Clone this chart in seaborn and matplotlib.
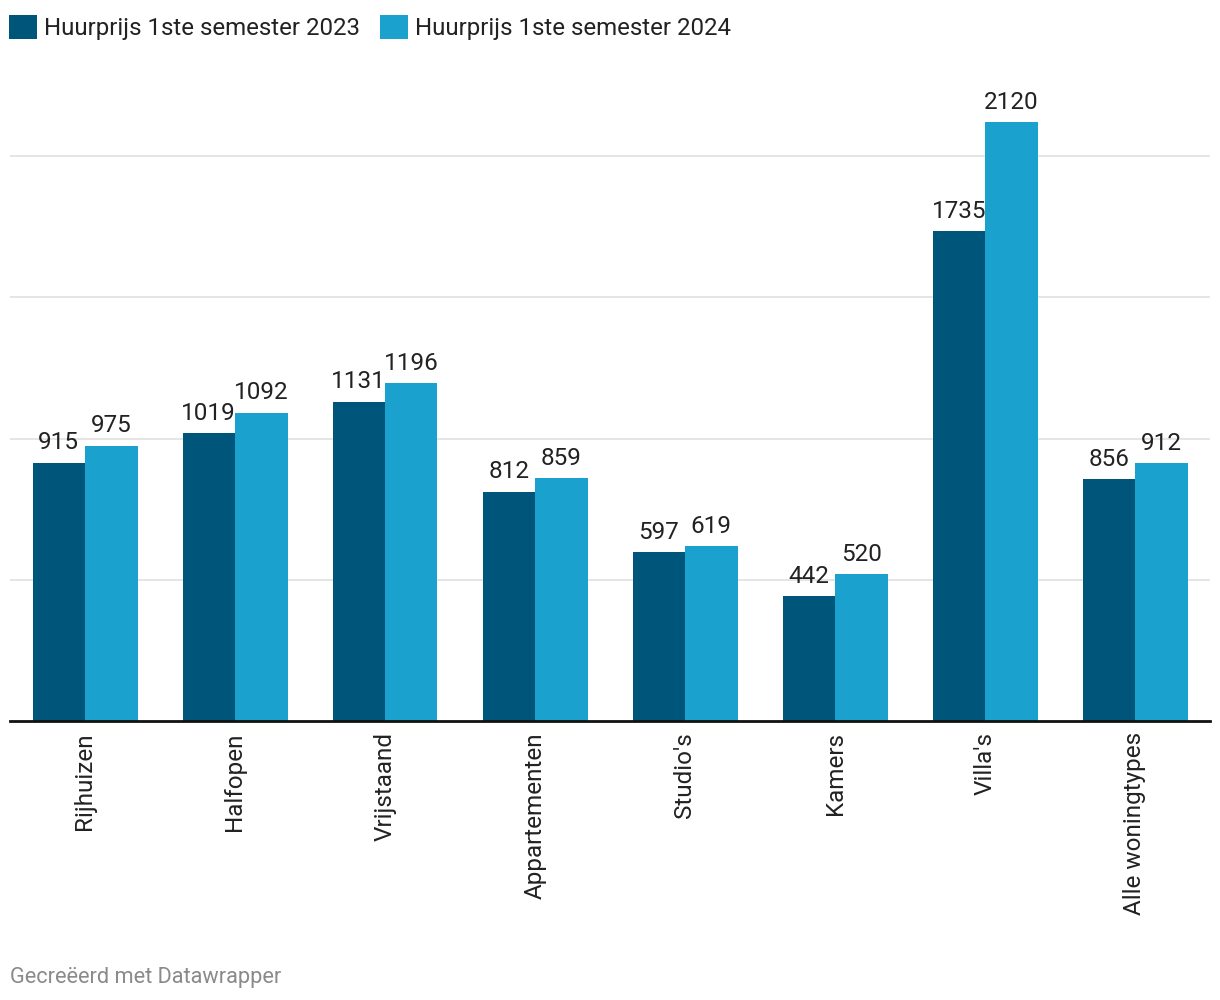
import pandas as pd
import seaborn as sns
import matplotlib.pyplot as plt

# Gegevens
categorieen = ['Rijhuizen', 'Halfopen', 'Vrijstaand', 'Appartementen', "Studio's",
               'Kamers', "Villa's", 'Alle woningtypes']
prijs_2023 = [915, 1019, 1131, 812, 597, 442, 1735, 856]
prijs_2024 = [975, 1092, 1196, 859, 619, 520, 2120, 912]
reeksen = ['Huurprijs 1ste semester 2023', 'Huurprijs 1ste semester 2024']
kleuren = ['#00557a', '#1aa1ce']

df = pd.DataFrame({
    'Type': categorieen * 2,
    'Reeks': [reeksen[0]] * len(categorieen) + [reeksen[1]] * len(categorieen),
    'Prijs': prijs_2023 + prijs_2024,
})

sns.set_theme(style='white')
plt.rcParams['font.family'] = ['Roboto', 'DejaVu Sans']

fig = plt.figure(figsize=(12.2, 10), dpi=100)
ax = fig.add_axes([10 / 1220, 0.279, 1200 / 1220, 0.6494])

sns.barplot(data=df, x='Type', y='Prijs', hue='Reeks', palette=kleuren,
            width=0.7, saturation=1, ax=ax, linewidth=0)

ax.set_ylim(0, 2300)
ax.set_xlim(-0.5, len(categorieen) - 0.5)
ax.set_yticks([500, 1000, 1500, 2000])
ax.yaxis.grid(True, color='#e3e3e3', linewidth=1.3)
ax.set_axisbelow(True)
ax.tick_params(axis='y', left=False, labelleft=False)
ax.tick_params(axis='x', bottom=False, length=0, pad=8, labelsize=17.5,
               labelcolor='#222222')
plt.setp(ax.get_xticklabels(), rotation=90, ha='center', va='top')
ax.set_xlabel('')
ax.set_ylabel('')
for kant in ['top', 'right', 'left']:
    ax.spines[kant].set_visible(False)
ax.spines['bottom'].set_color('#111111')
ax.spines['bottom'].set_linewidth(2)

# Waardelabels
for cont in ax.containers:
    ax.bar_label(cont, fmt='%d', padding=6, fontsize=17.5, color='#222222')

# Legende
handles, labels = ax.get_legend_handles_labels()
ax.legend(handles, labels, loc='upper left', bbox_to_anchor=(9 / 1220, 0.985),
          bbox_transform=fig.transFigure, ncol=2, frameon=False,
          fontsize=17.3, handlelength=1.15, handleheight=1.15,
          handletextpad=0.3, columnspacing=0.85, borderpad=0, borderaxespad=0,
          labelcolor='#222222')

fig.text(10 / 1220, 0.023, 'Gecreëerd met Datawrapper', fontsize=15.7,
         color='#8a8a8a', ha='left', va='center')

fig.savefig('out.png', dpi=100, facecolor='white')
